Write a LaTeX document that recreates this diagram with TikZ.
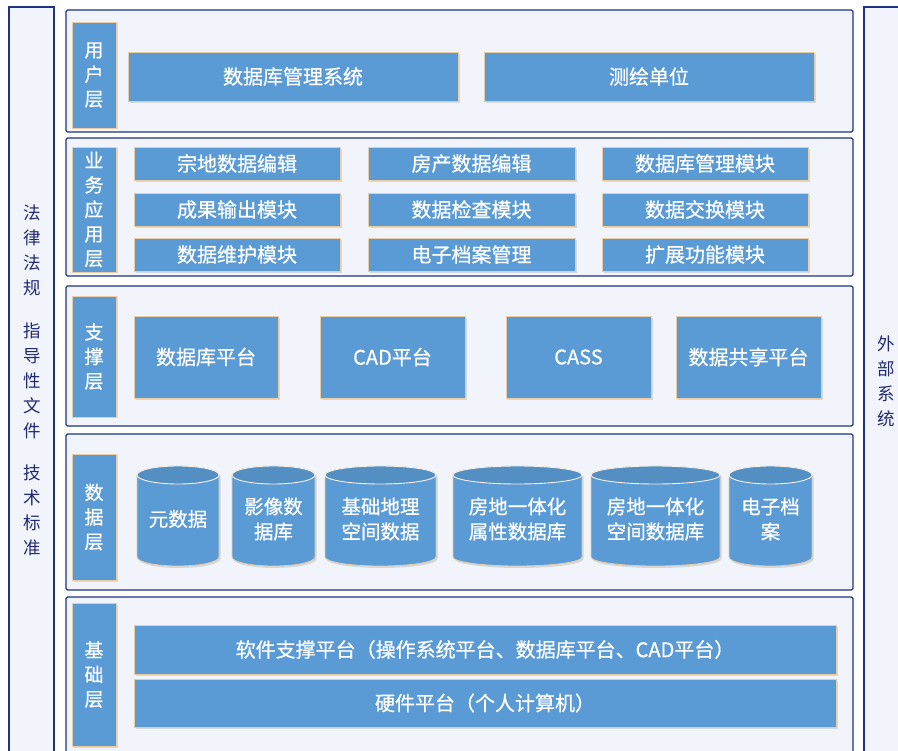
\documentclass[tikz,border=0pt]{standalone}
\usepackage{fontspec}
\setmainfont{Noto Sans CJK SC}
\newfontfamily\boxfont{Noto Sans CJK SC}[FakeBold=0.6]
\usetikzlibrary{shadows}
\definecolor{boxblue}{RGB}{91,155,213}
\definecolor{navy}{RGB}{30,50,130}
\definecolor{tanline}{RGB}{232,205,165}
\definecolor{framebg}{RGB}{241,245,251}
\definecolor{txtnavy}{RGB}{35,40,115}
\newcommand{\mybox}[7]{%
  \pgfmathsetmacro\mbx{(#3+#5)/2}\pgfmathsetmacro\mby{(#4+#6)/2}%
  \pgfmathsetmacro\mbw{#5-#3}\pgfmathsetmacro\mbh{#6-#4}%
  \node[#1, minimum width=\mbw pt, minimum height=\mbh pt] (#2) at (\mbx,\mby) {#7};}
\newcommand{\mycyl}[6]{%
  \pgfmathsetmacro\cyx{(#2+#3)/2}\pgfmathsetmacro\cyr{(#3-#2)/2}%
  \pgfmathsetmacro\cyt{#4+9}\pgfmathsetmacro\cyb{#5-9}\pgfmathsetmacro\cym{(#4+#5)/2+3}%
  \draw[cylbody] (#2,\cyt) -- (#2,\cyb) arc[start angle=180,end angle=360,x radius=\cyr pt,y radius=9pt] -- (#3,\cyt) arc[start angle=0,end angle=180,x radius=\cyr pt,y radius=9pt] -- cycle;
  \draw[cyltop] (\cyx,\cyt) ellipse [x radius=\cyr pt, y radius=9pt];
  \node[cyltxt] (#1) at (\cyx,\cym) {#6};}
\begin{document}
\begin{tikzpicture}[x=1pt,y=-1pt,
  frame/.style={draw=navy, line width=1.1pt, fill=framebg, rounded corners=1.5pt},
  side/.style={draw=navy, line width=1.1pt, fill=framebg},
  lbl/.style={draw=tanline, line width=0.8pt, fill=boxblue, text=white, align=center, inner sep=0pt,
    font=\boxfont\fontsize{19}{24.5}\selectfont, drop shadow={shadow xshift=1.5pt, shadow yshift=-1.5pt, opacity=0.25}},
  item/.style={draw=tanline, line width=0.8pt, fill=boxblue, text=white, align=center, inner sep=0pt,
    font=\boxfont\fontsize{20}{24}\selectfont, drop shadow={shadow xshift=1.5pt, shadow yshift=-2pt, opacity=0.25}},
  cylbody/.style={draw=tanline, line width=0.8pt, fill=boxblue, drop shadow={shadow xshift=1.5pt, shadow yshift=-2pt, opacity=0.25}},
  cyltop/.style={draw=white!75!tanline, line width=0.9pt, fill=boxblue!92!black},
  cyltxt/.style={text=white, align=center, inner sep=0pt, font=\boxfont\fontsize{19.5}{25}\selectfont},
  sidetxt/.style={text=txtnavy, align=center, inner sep=0pt, font=\fontsize{17.5}{25}\selectfont},
]
\useasboundingbox (0,0) rectangle (898,751);
\clip (0,0) rectangle (898,751);
\fill[white] (0,0) rectangle (898,751);
% side panels
\draw[side] (9,7) rectangle (54,770);
\draw[side] (864,7) rectangle (910,770);
\node[sidetxt] (law) at (32,250) {法\\律\\法\\规};
\node[sidetxt] (guide) at (32,381) {指\\导\\性\\文\\件};
\node[sidetxt] (std) at (32,510) {技\\术\\标\\准};
\node[sidetxt] (ext) at (886,381) {外\\部\\系\\统};
% user layer
\draw[frame] (66,10) rectangle (853,132);
\mybox{lbl}{l1}{72}{22}{116}{128}{用\\户\\层}
\mybox{item}{u1}{128}{52}{458}{101}{数据库管理系统}
\mybox{item}{u2}{484}{52}{814}{101}{测绘单位}
% business layer
\draw[frame] (66,138) rectangle (853,276);
\mybox{lbl}{l2}{72}{147}{116}{272}{业\\务\\应\\用\\层}
\mybox{item}{b11}{134}{147}{340}{180}{宗地数据编辑}
\mybox{item}{b12}{368}{147}{575}{180}{房产数据编辑}
\mybox{item}{b13}{602}{147}{808}{180}{数据库管理模块}
\mybox{item}{b21}{134}{193}{340}{226}{成果输出模块}
\mybox{item}{b22}{368}{193}{575}{226}{数据检查模块}
\mybox{item}{b23}{602}{193}{808}{226}{数据交换模块}
\mybox{item}{b31}{134}{238}{340}{271}{数据维护模块}
\mybox{item}{b32}{368}{238}{575}{271}{电子档案管理}
\mybox{item}{b33}{602}{238}{808}{271}{扩展功能模块}
% support layer
\draw[frame] (66,286) rectangle (853,426);
\mybox{lbl}{l3}{72}{296}{116}{417}{支\\撑\\层}
\mybox{item}{s1}{134}{316}{278}{398}{数据库平台}
\mybox{item}{s2}{320}{316}{465}{398}{CAD平台}
\mybox{item}{s3}{506}{316}{651}{398}{CASS}
\mybox{item}{s4}{676}{316}{821}{398}{数据共享平台}
% data layer
\draw[frame] (66,434) rectangle (853,590);
\mybox{lbl}{l4}{72}{454}{116}{580}{数\\据\\层}
\mycyl{d1}{137}{219}{466}{566}{元数据}
\mycyl{d2}{232}{315}{466}{566}{影像数\\据库}
\mycyl{d3}{325}{436}{466}{566}{基础地理\\空间数据}
\mycyl{d4}{453}{582}{466}{566}{房地一体化\\属性数据库}
\mycyl{d5}{591}{720}{466}{566}{房地一体化\\空间数据库}
\mycyl{d6}{729}{812}{466}{566}{电子档\\案}
% base layer
\draw[frame] (66,597) rectangle (853,770);
\mybox{lbl}{l5}{72}{603}{116}{746}{基\\础\\层}
\mybox{item}{f1}{134}{625}{836}{674}{软件支撑平台（操作系统平台、数据库平台、CAD平台）}
\mybox{item}{f2}{134}{679}{836}{727}{硬件平台（个人计算机）}
\end{tikzpicture}
\end{document}
